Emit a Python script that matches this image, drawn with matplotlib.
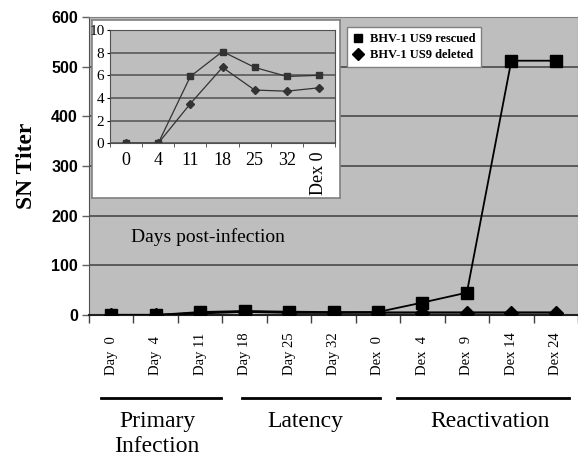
import matplotlib
matplotlib.use("Agg")
import matplotlib.pyplot as plt

# Daten
kategorien = ["Day  0", "Day  4", "Day 11", "Day 18", "Day 25", "Day 32",
              "Dex  0", "Dex  4", "Dex  9", "Dex 14", "Dex 24"]
rescued = [0, 0, 6, 8, 6.7, 5.9, 6.0, 25, 45, 512, 512]
deleted = [0, 0, 3.5, 6.7, 4.7, 4.6, 4.9, 5, 5, 5, 5]

inset_labels = ["0", "4", "11", "18", "25", "32", "Dex 0"]
inset_rescued = [0, 0, 5.9, 8.1, 6.7, 5.9, 6.0]
inset_deleted = [0, 0, 3.5, 6.7, 4.7, 4.6, 4.9]

gruppen = ["Primary\nInfection", "Latency", "Reactivation"]
gruppen_mitte = [1.03, 4.37, 8.52]
gruppen_linien = [(-0.22, 2.47), (2.94, 6.05), (6.43, 10.3)]

serif = "Liberation Serif"
grau = "#bebebe"
gitter = "#5a5a5a"

fig = plt.figure(figsize=(5.78, 4.57), dpi=100)

# Hauptachse
ax = fig.add_axes([89 / 578, 1 - 315 / 457, (578 - 89) / 578, (315 - 17) / 457])
ax.set_facecolor(grau)
x = list(range(len(kategorien)))
ax.plot(x, deleted, color="black", lw=1.6, marker="D", ms=7.5, zorder=3,
        label="BHV-1 US9 deleted")
ax.plot(x, rescued, color="black", lw=1.3, marker="s", ms=8, zorder=4,
        label="BHV-1 US9 rescued")
ax.set_xlim(-0.5, 10.45)
ax.set_ylim(0, 600)
ax.set_yticks(range(0, 601, 100))
ax.yaxis.grid(True, color=gitter, lw=1.4)
ax.set_axisbelow(True)
for lbl in ax.get_yticklabels():
    lbl.set_fontfamily("Liberation Sans")
    lbl.set_fontweight("bold")
    lbl.set_fontsize(11.5)
ax.tick_params(axis="y", length=5, width=1, color="#606060", pad=3)

# x-Ticks zwischen den Kategorien
ax.set_xticks([i + 0.5 for i in range(-1, len(kategorien))])
ax.set_xticklabels([])
ax.tick_params(axis="x", length=6, width=1, color="#404040")
for i, k in enumerate(kategorien):
    ax.text(i, -0.201, k, rotation=90, ha="center", va="bottom",
            fontfamily=serif, fontsize=10.5, transform=ax.get_xaxis_transform())

for s in ["top", "right"]:
    ax.spines[s].set_color("#808080")
ax.spines["left"].set_color("#505050")
ax.spines["bottom"].set_color("#202020")
ax.spines["bottom"].set_linewidth(1.5)

ax.set_ylabel("SN Titer", fontfamily=serif, fontweight="bold", fontsize=17, labelpad=10)

ax.text(0.45, 157, "Days post-infection", fontfamily=serif, fontsize=14,
        ha="left", va="center")

# Gruppen unter der Achse
tr = ax.get_xaxis_transform()
for (a, b), m, g in zip(gruppen_linien, gruppen_mitte, gruppen):
    ax.plot([a, b], [-0.279, -0.279], color="black", lw=2, transform=tr, clip_on=False)
    ax.text(m, -0.322, g, ha="center", va="top", fontfamily=serif, fontsize=17,
            transform=tr, linespacing=1.25)

handles, labels = ax.get_legend_handles_labels()
leg = ax.legend([handles[1], handles[0]], [labels[1], labels[0]],
                loc="upper left", bbox_to_anchor=(347 / 578, 1 - 27 / 457),
                bbox_transform=fig.transFigure, borderaxespad=0,
                prop={"family": serif, "size": 9, "weight": "bold"},
                fancybox=False, framealpha=1, edgecolor="#808080",
                handlelength=0.8, handletextpad=0.5, borderpad=0.5,
                labelspacing=0.3)
for h in leg.legend_handles:
    h.set_linestyle("none")
    h.set_markersize(6)

# weißer Kasten hinter dem Inset
box = fig.add_axes([92 / 578, 1 - 198 / 457, (340 - 92) / 578, (198 - 20) / 457])
box.set_facecolor("white")
box.set_xticks([])
box.set_yticks([])
for s in box.spines.values():
    s.set_color("#808080")
    s.set_linewidth(1.2)

# Inset
ins = fig.add_axes([110 / 578, 1 - 143.3 / 457, (335 - 110) / 578, (143.3 - 30) / 457])
ins.set_facecolor(grau)
xi = list(range(len(inset_labels)))
ins.plot(xi, inset_rescued, color="#333333", lw=0.9, marker="s", ms=4.5)
ins.plot(xi, inset_deleted, color="#333333", lw=0.9, marker="D", ms=4.2)
ins.set_xlim(-0.5, 6.5)
ins.set_ylim(0, 10)
ins.set_yticks(range(0, 11, 2))
ins.yaxis.grid(True, color=gitter, lw=1.2)
ins.set_axisbelow(True)
ins.set_xticks(xi)
ins.set_xticklabels(inset_labels, fontfamily=serif, fontsize=13)
ins.get_xticklabels()[-1].set_rotation(90)
ins.set_xticks([i + 0.5 for i in range(-1, len(inset_labels))], minor=True)
ins.tick_params(axis="x", which="major", length=0, pad=6)
ins.tick_params(axis="x", which="minor", length=3, color="#404040")
ins.tick_params(axis="y", length=2, pad=2, labelsize=11)
for lbl in ins.get_yticklabels():
    lbl.set_fontfamily(serif)
for s in ins.spines.values():
    s.set_color("#505050")

fig.savefig("out.png", dpi=100)
